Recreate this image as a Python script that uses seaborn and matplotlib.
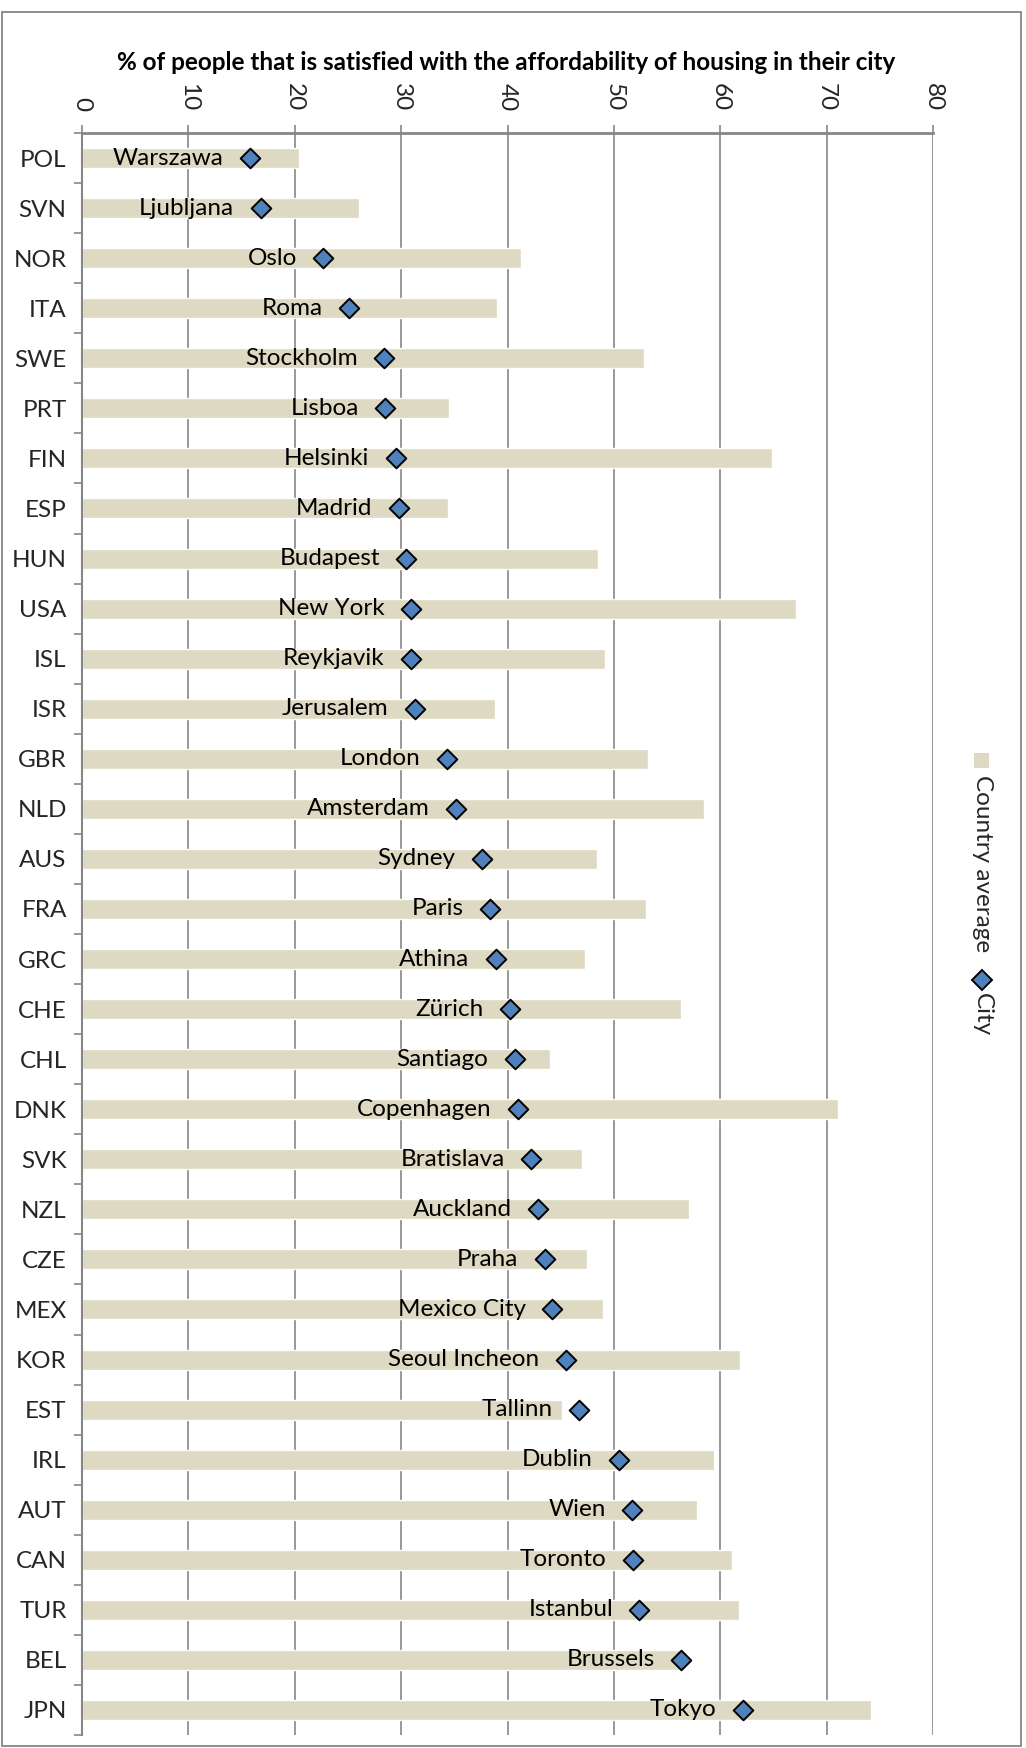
import numpy as np
import pandas as pd
import matplotlib
matplotlib.use("Agg")
import matplotlib.pyplot as plt
from matplotlib.patches import Rectangle
from matplotlib.lines import Line2D
import seaborn as sns

# Country codes, ordered by city value
countries = ["POL", "SVN", "NOR", "ITA", "SWE", "PRT", "FIN", "ESP", "HUN", "USA",
             "ISL", "ISR", "GBR", "NLD", "AUS", "FRA", "GRC", "CHE", "CHL", "DNK",
             "SVK", "NZL", "CZE", "MEX", "KOR", "EST", "IRL", "AUT", "CAN", "TUR",
             "BEL", "JPN"]

cities = ["Warszawa", "Ljubljana", "Oslo", "Roma", "Stockholm", "Lisboa", "Helsinki",
          "Madrid", "Budapest", "New York", "Reykjavik", "Jerusalem", "London",
          "Amsterdam", "Sydney", "Paris", "Athina", "Zürich", "Santiago", "Copenhagen",
          "Bratislava", "Auckland", "Praha", "Mexico City", "Seoul Incheon", "Tallinn",
          "Dublin", "Wien", "Toronto", "Istanbul", "Brussels", "Tokyo"]

# % satisfied with housing affordability
country_avg = [20.4, 26.0, 41.3, 39.0, 52.8, 34.5, 64.9, 34.4, 48.5, 67.1,
               49.2, 38.8, 53.2, 58.5, 48.4, 53.0, 47.3, 56.3, 44.0, 71.1,
               47.0, 57.1, 47.5, 49.0, 61.9, 45.1, 59.4, 57.8, 61.1, 61.8,
               56.5, 74.2]

city_val = [15.8, 16.8, 22.7, 25.1, 28.4, 28.5, 29.5, 29.8, 30.5, 30.9,
            30.9, 31.3, 34.3, 35.2, 37.6, 38.4, 38.9, 40.2, 40.7, 41.0,
            42.2, 42.9, 43.5, 44.2, 45.5, 46.7, 50.5, 51.7, 51.8, 52.4,
            56.3, 62.1]

x_ticks = [0, 10, 20, 30, 40, 50, 60, 70, 80]

title = "% of people that is satisfied with the affordability of housing in their city"

BAR_COLOR = "#DDD9C3"
DOT_COLOR = "#4F81BD"
AXIS_GRAY = "#868686"

sns.set_theme(style="white")
plt.rcParams["font.family"] = ["Lato", "DejaVu Sans"]

df = pd.DataFrame({"country": countries, "city": cities,
                   "country_avg": country_avg, "city_val": city_val})

W, H = 1026, 1748
fig = plt.figure(figsize=(W / 100, H / 100), dpi=100)
ax = fig.add_axes([82 / W, 1 - 1735 / H, (933 - 82) / W, (1735 - 133) / H])

sns.barplot(data=df, x="country_avg", y="country", orient="h", color=BAR_COLOR,
            saturation=1, width=0.4, ax=ax, zorder=2)
sns.stripplot(data=df, x="city_val", y="country", orient="h", jitter=False,
              marker="D", size=10, color=DOT_COLOR, edgecolor="black",
              linewidth=1.4, ax=ax, zorder=4)

label_size = 17.5
for i, row in df.iterrows():
    ax.annotate(row["city"], xy=(row["city_val"], i), xytext=(-19, 0),
                textcoords="offset points", ha="right", va="center",
                fontsize=label_size, color="black", zorder=5)

ax.set_xlim(0, 80)
ax.set_ylim(len(countries) - 0.5, -0.5)
ax.set_xlabel("")
ax.set_ylabel("")

# Value axis along the top, labels rotated
ax.xaxis.tick_top()
ax.set_xticks(x_ticks)
ax.set_xticklabels([str(t) for t in x_ticks])
ax.tick_params(axis="x", which="major", top=True, bottom=False, length=6,
               width=1.2, color=AXIS_GRAY, labelsize=label_size,
               labelrotation=-90, pad=10)
ax.grid(axis="x", color=AXIS_GRAY, linewidth=1.2)
ax.grid(axis="y", visible=False)
ax.set_axisbelow(True)

# Category axis: boundary ticks between rows
ax.set_yticks(np.arange(-0.5, len(countries), 1.0), minor=True)
ax.tick_params(axis="y", which="minor", left=True, length=6, width=1.2,
               color=AXIS_GRAY, direction="out")
ax.tick_params(axis="y", which="major", left=False, length=0,
               labelsize=label_size, pad=11)

for side in ["right", "bottom"]:
    ax.spines[side].set_visible(False)
ax.spines["left"].set_color(AXIS_GRAY)
ax.spines["left"].set_linewidth(1.5)
ax.spines["top"].set_color(AXIS_GRAY)
ax.spines["top"].set_linewidth(2.0)

fig.text(506 / W, 1 - 63 / H, title, ha="center", va="center",
         fontsize=17.5, fontweight="bold", color="black")

# Legend, drawn vertically along the right edge
fig.add_artist(Rectangle((974 / W, 1 - 768 / H), 15 / W, 15 / H,
                         facecolor=BAR_COLOR, edgecolor="none",
                         transform=fig.transFigure))
fig.text(982 / W, 1 - 775 / H, "Country average", rotation=-90,
         ha="center", va="top", fontsize=label_size)
fig.add_artist(Line2D([982 / W], [1 - 980 / H], marker="D", markersize=10,
                      markerfacecolor=DOT_COLOR, markeredgecolor="black",
                      markeredgewidth=1.4, linestyle="none",
                      transform=fig.transFigure))
fig.text(982 / W, 1 - 993 / H, "City", rotation=-90,
         ha="center", va="top", fontsize=label_size)

# Chart-area border
fig.add_artist(Rectangle((1.5 / W, 2 / H), 1019.5 / W, (1746 - 12) / H,
                         facecolor="none", edgecolor=AXIS_GRAY, linewidth=1.3,
                         transform=fig.transFigure))

fig.savefig("out.png", dpi=100)
